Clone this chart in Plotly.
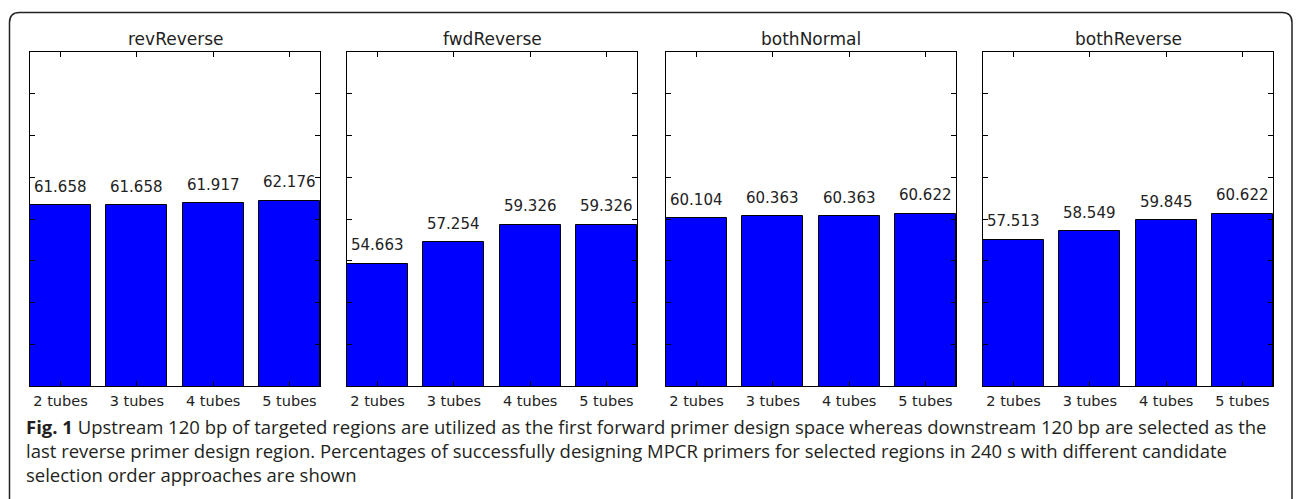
import plotly.graph_objects as go

W, H = 1296, 499

categories = ["2 tubes", "3 tubes", "4 tubes", "5 tubes"]
panel_titles = ["revReverse", "fwdReverse", "bothNormal", "bothReverse"]
rev_reverse = [61.658, 61.658, 61.917, 62.176]
fwd_reverse = [54.663, 57.254, 59.326, 59.326]
both_normal = [60.104, 60.363, 60.363, 60.622]
both_reverse = [57.513, 58.549, 59.845, 60.622]
series = [rev_reverse, fwd_reverse, both_normal, both_reverse]
y_ticks = [40, 45, 50, 55, 60, 65, 70, 75, 80]

caption_lines = [
    "<b>Fig. 1</b> Upstream 120 bp of targeted regions are utilized as the first forward primer design space whereas downstream 120 bp are selected as the",
    "last reverse primer design region. Percentages of successfully designing MPCR primers for selected regions in 240 s with different candidate",
    "selection order approaches are shown",
]

# layout in pixels
panel_px = [(30, 320), (347, 637), (666, 956), (983, 1273)]
top_px, bot_px = 52, 386

def px_x(p):
    return p / W

def px_y(p):
    return 1 - p / H

fig = go.Figure()
annotations = []
for i, (vals, title) in enumerate(zip(series, panel_titles)):
    n = "" if i == 0 else str(i + 1)
    fig.add_trace(go.Bar(
        x=categories, y=vals, width=0.8,
        marker=dict(color="#0000ff", line=dict(color="black", width=1)),
        xaxis="x" + n, yaxis="y" + n, showlegend=False, hoverinfo="skip",
    ))
    x0, x1 = panel_px[i]
    axis_common = dict(
        showline=True, linecolor="black", linewidth=1, mirror="ticks",
        ticks="inside", ticklen=5, tickwidth=1, tickcolor="black",
        showgrid=False, zeroline=False,
    )
    fig.update_layout(**{
        "xaxis" + n: dict(
            domain=[px_x(x0), px_x(x1)], anchor="y" + n,
            range=[-0.4, 3.4], type="category",
            tickfont=dict(family="DejaVu Sans", size=14.5, color="#222"),
            ticklabelstandoff=2,
            **axis_common,
        ),
        "yaxis" + n: dict(
            domain=[px_y(bot_px), px_y(top_px)], anchor="x" + n,
            range=[40, 80], tickvals=y_ticks, showticklabels=False,
            **axis_common,
        ),
    })
    annotations.append(dict(
        x=px_x((x0 + x1) / 2), y=px_y(39), xref="paper", yref="paper",
        text=title, showarrow=False, xanchor="center", yanchor="middle",
        font=dict(family="DejaVu Sans", size=17, color="#222"),
    ))
    for c, v in zip(categories, vals):
        annotations.append(dict(
            x=c, y=v + 1, xref="x" + n, yref="y" + n,
            text=f"{v:.3f}", showarrow=False, xanchor="center", yanchor="bottom",
            yshift=-1,
            font=dict(family="DejaVu Sans", size=15, color="#222"),
        ))

annotations.append(dict(
    x=px_x(24), y=px_y(450.5), xref="paper", yref="paper",
    text="<br>".join(caption_lines), showarrow=False,
    xanchor="left", yanchor="middle", align="left",
    font=dict(family="Open Sans", size=18.5, color="#231f20"),
))

r = 10
bx0, bx1, by0 = 9.5, 1292, 12.5
path = (f"M {px_x(bx0)},{px_y(560)} L {px_x(bx0)},{px_y(by0 + r)} "
        f"Q {px_x(bx0)},{px_y(by0)} {px_x(bx0 + r)},{px_y(by0)} "
        f"L {px_x(bx1 - r)},{px_y(by0)} "
        f"Q {px_x(bx1)},{px_y(by0)} {px_x(bx1)},{px_y(by0 + r)} "
        f"L {px_x(bx1)},{px_y(560)}")

fig.update_layout(
    width=W, height=H,
    margin=dict(l=0, r=0, t=0, b=0),
    paper_bgcolor="white", plot_bgcolor="white",
    annotations=annotations,
    shapes=[dict(type="path", path=path, xref="paper", yref="paper",
                 line=dict(color="#222", width=1.5))],
    bargap=0,
)

fig.write_html(
    "out.html",
    config={"displayModeBar": False},
    post_script="document.body.style.margin='0';document.body.style.overflow='hidden';",
)
